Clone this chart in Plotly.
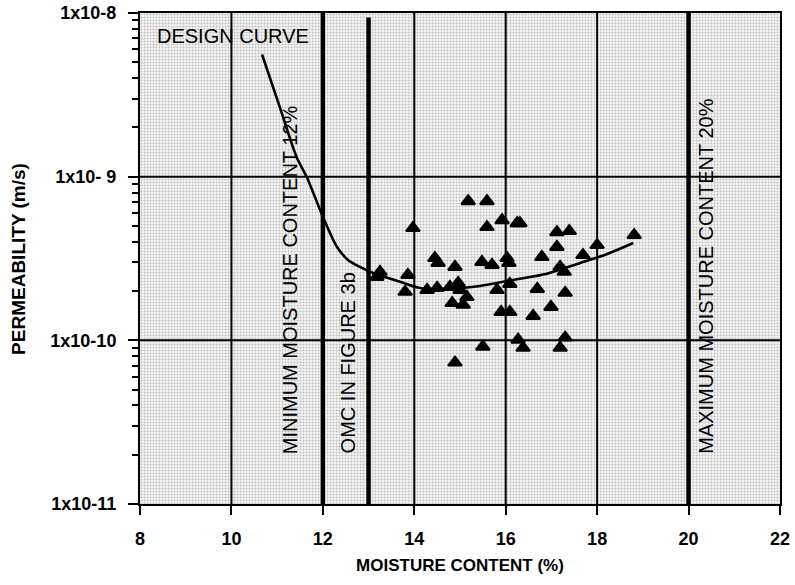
import plotly.graph_objects as go

# Measured permeability of compacted samples vs. moisture content
moisture = [13.25, 13.18, 13.86, 13.80, 13.97, 14.45, 14.52, 14.28, 14.50, 14.78,
            15.00, 14.89, 14.83, 15.07, 15.15, 14.96, 14.89, 15.18, 15.59, 15.59,
            15.92, 16.25, 16.31, 15.48, 15.70, 16.03, 16.07, 16.09, 15.81, 15.90,
            16.09, 15.50, 16.27, 16.38, 16.60, 16.69, 16.79, 16.99, 17.12, 17.39,
            17.12, 17.19, 17.28, 17.30, 17.19, 17.30, 17.69, 18.00, 18.81]
permeability = [2.62e-10, 2.44e-10, 2.51e-10, 1.98e-10, 4.85e-10, 3.18e-10, 2.97e-10,
                2.03e-10, 2.09e-10, 2.12e-10, 2.03e-10, 2.81e-10, 1.69e-10, 1.65e-10,
                1.84e-10, 2.24e-10, 7.31e-11, 7.08e-10, 7.08e-10, 4.92e-10, 5.42e-10,
                5.20e-10, 5.20e-10, 3.01e-10, 2.89e-10, 3.18e-10, 2.97e-10, 2.21e-10,
                2.03e-10, 1.49e-10, 1.49e-10, 9.15e-11, 1.01e-10, 9.00e-11, 1.41e-10,
                2.06e-10, 3.23e-10, 1.60e-10, 4.58e-10, 4.65e-10, 3.72e-10, 2.81e-10,
                2.62e-10, 1.95e-10, 9.00e-11, 1.04e-10, 3.32e-10, 3.82e-10, 4.40e-10]

# Design curve
curve_x = [10.67, 11.06, 11.43, 11.65, 11.96, 12.16, 12.31, 12.55, 12.81, 13.10,
           13.69, 14.13, 14.78, 15.44, 16.16, 16.90, 17.63, 18.22, 18.79]
curve_y = [5.58e-9, 2.65e-9, 1.31e-9, 9.93e-10, 6.06e-10, 4.50e-10, 3.72e-10,
           3.10e-10, 2.81e-10, 2.58e-10, 2.28e-10, 2.09e-10, 2.07e-10, 2.15e-10,
           2.34e-10, 2.55e-10, 2.97e-10, 3.37e-10, 3.93e-10]

# Axes
x_ticks = [8, 10, 12, 14, 16, 18, 20, 22]
y_ticks = [1e-11, 1e-10, 1e-9, 1e-8]
y_tick_text = ["1x10-11", "1x10-10", "1x10- 9", "1x10-8"]

# Reference lines
grid_x = [10, 14, 16, 18]
grid_y = [1e-10, 1e-9]
limit_x = [12, 20]          # minimum / maximum moisture content
omc_x = 13                  # optimum moisture content

FONT = "Arial, Liberation Sans, sans-serif"
X_MIN, X_MAX = 8, 22
Y_MIN, Y_MAX = 1e-11, 1e-8

fig = go.Figure()

# Stippled plot background
fig.add_trace(go.Scatter(
    x=[X_MIN, X_MAX, X_MAX, X_MIN, X_MIN],
    y=[Y_MIN, Y_MIN, Y_MAX, Y_MAX, Y_MIN],
    mode="none", fill="toself", fillcolor="#dcdcdc",
    fillpattern=dict(shape=".", size=3, solidity=0.35,
                     fgcolor="#8a8a8a", bgcolor="#f4f4f4"),
    hoverinfo="skip", showlegend=False))

for gx in grid_x:
    fig.add_trace(go.Scatter(x=[gx, gx], y=[Y_MIN, Y_MAX], mode="lines",
                             line=dict(color="black", width=2),
                             hoverinfo="skip", showlegend=False))
for gy in grid_y:
    fig.add_trace(go.Scatter(x=[X_MIN, X_MAX], y=[gy, gy], mode="lines",
                             line=dict(color="black", width=2),
                             hoverinfo="skip", showlegend=False))
for lx in limit_x:
    fig.add_trace(go.Scatter(x=[lx, lx], y=[Y_MIN, Y_MAX], mode="lines",
                             line=dict(color="black", width=4.5),
                             hoverinfo="skip", showlegend=False))
fig.add_trace(go.Scatter(x=[omc_x, omc_x], y=[Y_MIN, 9.4e-9], mode="lines",
                         line=dict(color="black", width=4.5),
                         hoverinfo="skip", showlegend=False))

# Design curve and test results
fig.add_trace(go.Scatter(x=curve_x, y=curve_y, mode="lines",
                         line=dict(color="black", width=2.6, shape="spline", smoothing=0.8),
                         showlegend=False))
fig.add_trace(go.Scatter(x=moisture, y=permeability, mode="markers",
                         marker=dict(symbol="triangle-up", size=12, color="black",
                                     line=dict(color="black", width=2)),
                         showlegend=False))

annotations = [
    dict(text="DESIGN CURVE", x=8.33, y=0.954, xref="x", yref="paper",
         xanchor="left", yanchor="middle", showarrow=False,
         font=dict(family=FONT, size=20, color="black")),
    dict(text="MINIMUM MOISTURE CONTENT 12%", x=11.30, y=0.098, xref="x", yref="paper",
         xanchor="center", yanchor="bottom", textangle=-90, showarrow=False,
         font=dict(family=FONT, size=20, color="black")),
    dict(text="OMC IN FIGURE 3b", x=12.55, y=0.098, xref="x", yref="paper",
         xanchor="center", yanchor="bottom", textangle=-90, showarrow=False,
         font=dict(family=FONT, size=20, color="black")),
    dict(text="MAXIMUM MOISTURE CONTENT 20%", x=20.39, y=0.098, xref="x", yref="paper",
         xanchor="center", yanchor="bottom", textangle=-90, showarrow=False,
         font=dict(family=FONT, size=20, color="black")),
    # y-axis title
    dict(text="PERMEABILITY (m/s)", x=-0.19, y=0.5, xref="paper", yref="paper",
         xanchor="center", yanchor="middle", textangle=-90, showarrow=False,
         font=dict(family=FONT, size=19, weight="bold", color="black")),
]

fig.update_layout(
    width=795, height=585,
    margin=dict(l=140, r=15, t=12.5, b=80.5),
    paper_bgcolor="white", plot_bgcolor="white",
    font=dict(family=FONT, color="black"),
    annotations=annotations,
    showlegend=False,
)

fig.update_xaxes(
    range=[X_MIN, X_MAX], tickvals=x_ticks, ticktext=[str(v) for v in x_ticks],
    showgrid=False, zeroline=False, automargin=False,
    showline=True, linecolor="black", linewidth=2, mirror=True,
    ticks="outside", ticklen=9, tickwidth=2, tickcolor="black",
    ticklabelstandoff=8,
    tickfont=dict(family=FONT, size=18, weight="bold", color="black"),
    title=dict(text="MOISTURE CONTENT (%)", standoff=12,
               font=dict(family=FONT, size=17, weight="bold", color="black")),
)

minor_vals = [k * d for d in [1e-11, 1e-10, 1e-9] for k in range(2, 10)]
fig.update_yaxes(
    type="log", range=[-11, -8], tickvals=y_ticks, ticktext=y_tick_text,
    showgrid=False, zeroline=False, automargin=False,
    showline=True, linecolor="black", linewidth=2, mirror=True,
    ticks="outside", ticklen=10, tickwidth=2, tickcolor="black",
    ticklabelstandoff=8,
    minor=dict(tickvals=minor_vals, ticks="outside", ticklen=6, tickwidth=1.5,
               tickcolor="black", showgrid=False),
    tickfont=dict(family=FONT, size=18, weight="bold", color="black"),
)

fig.write_html("out.html")
